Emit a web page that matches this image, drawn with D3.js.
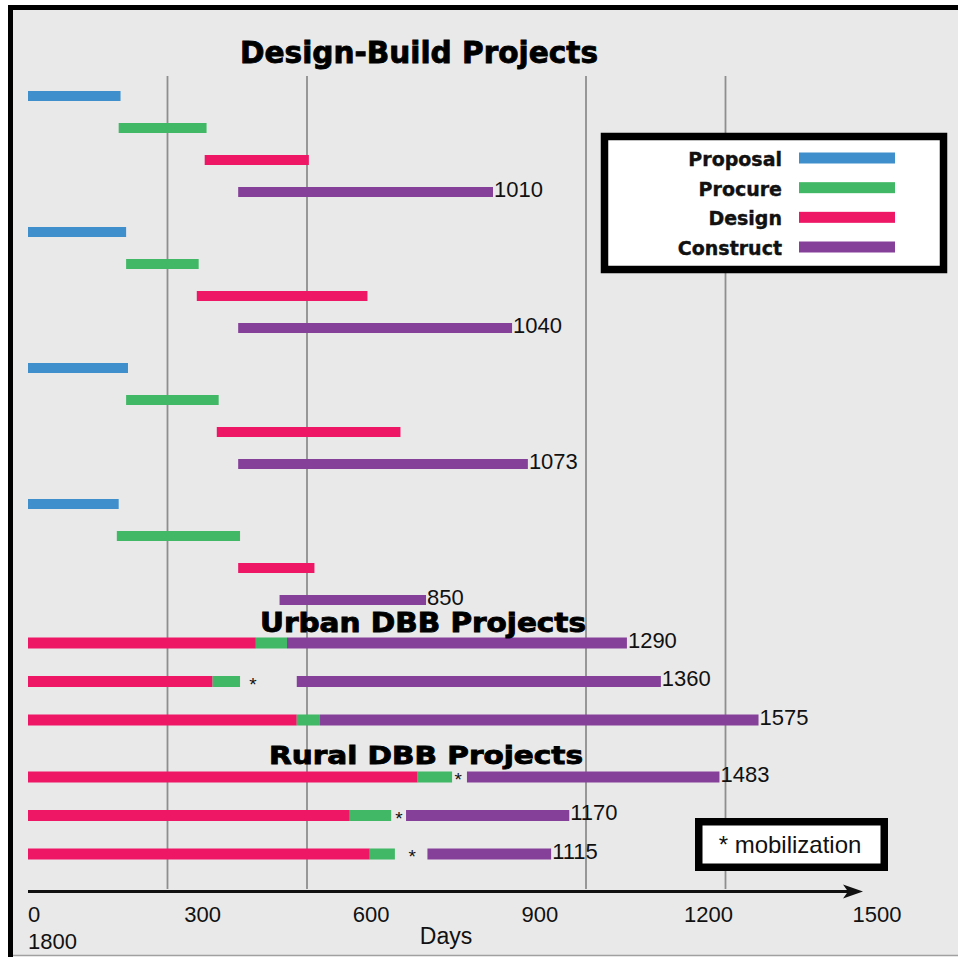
<!DOCTYPE html>
<html>
<head>
<meta charset="utf-8">
<script src="https://cdn.jsdelivr.net/npm/d3@7"></script>
<style>
  body { margin: 0; background: #fff; }
  svg { display: block; }
  text { font-family: "Liberation Sans", Arial, sans-serif; fill: #111; }
</style>
</head>
<body>
<div id="chart"></div>
<script>
var phases = ["Proposal", "Procure", "Design", "Construct"];
var phaseColors = ["#3f8fcd", "#41b865", "#ed1766", "#85419a"];

// design-build projects, [start, end] in days
var dbProposal  = [[0, 199], [0, 211], [0, 215], [0, 195]];
var dbProcure   = [[195, 384], [211, 367], [211, 410], [191, 456]];
var dbDesign    = [[380, 604], [363, 730], [406, 801], [452, 616]];
var dbConstruct = [[452, 1000], [452, 1041], [452, 1075], [541, 856]];
var dbTotals    = [1010, 1040, 1073, 850];

// urban design-bid-build projects
var urbanDesign       = [[0, 490], [0, 397], [0, 578]];
var urbanProcure      = [[490, 557], [397, 456], [578, 628]];
var urbanConstruct    = [[557, 1288], [578, 1361], [628, 1571]];
var urbanTotals       = [1290, 1360, 1575];
var urbanMobilization = [null, 484, null];

// rural design-bid-build projects
var ruralDesign       = [[0, 838], [0, 692], [0, 735]];
var ruralProcure      = [[838, 912], [692, 781], [735, 789]];
var ruralConstruct    = [[944, 1487], [813, 1164], [859, 1125]];
var ruralTotals       = [1483, 1170, 1115];
var ruralMobilization = [925, 798, 826];

var gridDays = [300, 600, 1200, 1500];
var tickLabels = [0, 300, 600, 900, 1200, 1500];
var wrappedTick = "1800";

var w = 958, h = 957;

var svg = d3.select("#chart").append("svg")
      .attr("width", w)
      .attr("height", h);

// frame
svg.append("rect")
  .attr("x", 8).attr("y", 5)
  .attr("width", w).attr("height", 951)
  .attr("fill", "#e9e9e9");
svg.append("line")
  .attr("x1", 8).attr("x2", w).attr("y1", 955.5).attr("y2", 955.5)
  .attr("stroke", "#a0a0a0").attr("stroke-width", 1.5);
svg.append("path")
  .attr("d", "M10.5,957V7.5H" + w)
  .attr("fill", "none").attr("stroke", "#000").attr("stroke-width", 5);

var x = d3.scaleLinear().domain([0, 1800]).range([28, 865]);
var fill = d3.scaleOrdinal().domain(phases).range(phaseColors);

// gridlines
svg.append("g")
  .selectAll("line")
  .data(gridDays)
  .enter().append("line")
  .attr("x1", (d) => x(d)).attr("x2", (d) => x(d))
  .attr("y1", 76).attr("y2", 889)
  .attr("stroke", "#8e8e8e")
  .attr("stroke-width", 1.8);

// row positions
var dbGroupY = d3.scalePoint().domain(d3.range(dbTotals.length)).range([96, 504]);
var dbPhaseY = d3.scalePoint().domain(phases).range([0, 96]);
var urbanY = d3.scalePoint().domain(d3.range(urbanTotals.length)).range([643, 720]);
var ruralY = d3.scalePoint().domain(d3.range(ruralTotals.length)).range([777, 854]);

var barH = 10, dbbBarH = 11;

var dbRows = [];
[dbProposal, dbProcure, dbDesign, dbConstruct].forEach((arr, i) => {
  arr.forEach((d, p) => {
    dbRows.push({phase: phases[i], start: d[0], end: d[1], y: dbGroupY(p) + dbPhaseY(phases[i])});
  });
});

var dbbRows = [];
function addDbb(design, procure, construct, yScale) {
  design.forEach((d, p) => {
    dbbRows.push({phase: "Design", start: d[0], end: d[1], y: yScale(p)});
    dbbRows.push({phase: "Procure", start: procure[p][0], end: procure[p][1], y: yScale(p)});
    dbbRows.push({phase: "Construct", start: construct[p][0], end: construct[p][1], y: yScale(p)});
  });
}
addDbb(urbanDesign, urbanProcure, urbanConstruct, urbanY);
addDbb(ruralDesign, ruralProcure, ruralConstruct, ruralY);

svg.append("g")
  .selectAll("rect")
  .data(dbRows)
  .enter().append("rect")
  .attr("x", (d) => x(d.start))
  .attr("width", (d) => x(d.end) - x(d.start))
  .attr("y", (d) => d.y - barH / 2)
  .attr("height", barH)
  .attr("fill", (d) => fill(d.phase));

svg.append("g")
  .selectAll("rect")
  .data(dbbRows)
  .enter().append("rect")
  .attr("x", (d) => x(d.start))
  .attr("width", (d) => x(d.end) - x(d.start))
  .attr("y", (d) => d.y - dbbBarH / 2)
  .attr("height", dbbBarH)
  .attr("fill", (d) => fill(d.phase));

// totals
var totals = [];
dbTotals.forEach((t, p) => totals.push({t: t, end: dbConstruct[p][1], y: dbGroupY(p) + dbPhaseY("Construct")}));
urbanTotals.forEach((t, p) => totals.push({t: t, end: urbanConstruct[p][1], y: urbanY(p)}));
ruralTotals.forEach((t, p) => totals.push({t: t, end: ruralConstruct[p][1], y: ruralY(p)}));

svg.append("g")
  .selectAll("text")
  .data(totals)
  .enter().append("text")
  .attr("x", (d) => x(d.end) + 1)
  .attr("y", (d) => d.y)
  .attr("dy", "0.22em")
  .style("font-size", "22px")
  .text((d) => d.t);

// mobilization marks
var mobs = [];
urbanMobilization.forEach((m, p) => { if (m != null) mobs.push({day: m, y: urbanY(p)}); });
ruralMobilization.forEach((m, p) => { if (m != null) mobs.push({day: m, y: ruralY(p)}); });

svg.append("g")
  .selectAll("text")
  .data(mobs)
  .enter().append("text")
  .attr("x", (d) => x(d.day))
  .attr("y", (d) => d.y)
  .attr("dy", "0.48em")
  .attr("text-anchor", "middle")
  .style("font-size", "19px")
  .text("*");

// section titles
var titles = [
  {text: "Design-Build Projects", cx: 419, y: 63, size: 31, len: 358},
  {text: "Urban DBB Projects", cx: 423, y: 631.5, size: 26, len: 326},
  {text: "Rural DBB Projects", cx: 426, y: 764, size: 25, len: 314}
];
svg.append("g")
  .selectAll("text")
  .data(titles)
  .enter().append("text")
  .attr("x", (d) => d.cx - d.len / 2)
  .attr("y", (d) => d.y)
  .attr("textLength", (d) => d.len)
  .attr("lengthAdjust", "spacingAndGlyphs")
  .style("font-family", "'Liberation Sans Narrow', 'Arial Narrow', 'DejaVu Sans Condensed', 'Liberation Sans', sans-serif")
  .style("font-weight", "bold")
  .style("font-size", (d) => d.size + "px")
  .style("fill", "#000")
  .style("stroke", "#000")
  .style("stroke-width", 0.8)
  .text((d) => d.text);

// legend
var legendY = d3.scalePoint().domain(phases).range([158, 247]);
var legend = svg.append("g");
legend.append("rect")
  .attr("x", 604.5).attr("y", 136.5)
  .attr("width", 339).attr("height", 133)
  .attr("fill", "#fff")
  .attr("stroke", "#000")
  .attr("stroke-width", 7.5);
legend.selectAll("rect.key")
  .data(phases)
  .enter().append("rect")
  .attr("class", "key")
  .attr("x", 799).attr("width", 96)
  .attr("y", (d) => legendY(d) - 5.5)
  .attr("height", 11)
  .attr("fill", (d) => fill(d));
legend.selectAll("text")
  .data(phases)
  .enter().append("text")
  .attr("x", 782)
  .attr("y", (d) => legendY(d) + 8)
  .attr("text-anchor", "end")
  .style("font-family", "'DejaVu Sans', sans-serif")
  .style("font-weight", "bold")
  .style("font-size", "19px")
  .style("stroke", "#111")
  .style("stroke-width", 0.4)
  .text((d) => d);

// mobilization note
svg.append("rect")
  .attr("x", 698.75).attr("y", 821.75)
  .attr("width", 185.5).attr("height", 45.5)
  .attr("fill", "#fff")
  .attr("stroke", "#000")
  .attr("stroke-width", 7.5);
svg.append("text")
  .attr("x", 790).attr("y", 853)
  .attr("text-anchor", "middle")
  .style("font-size", "24px")
  .text("* mobilization");

// axis with arrow
var axisY = 891.5;
var tip = x(1800) - 2;
svg.append("line")
  .attr("x1", x(0)).attr("x2", tip - 12)
  .attr("y1", axisY).attr("y2", axisY)
  .attr("stroke", "#111").attr("stroke-width", 3);
svg.append("path")
  .attr("d", "M" + tip + "," + axisY + "L" + (tip - 20) + "," + (axisY - 7) +
             "L" + (tip - 15) + "," + axisY + "L" + (tip - 20) + "," + (axisY + 7) + "Z")
  .attr("fill", "#111");

var labelX = d3.scaleLinear().domain([0, 1500]).range([34, 877]);
svg.append("g")
  .selectAll("text")
  .data(tickLabels)
  .enter().append("text")
  .attr("x", (d) => labelX(d))
  .attr("y", 922)
  .attr("text-anchor", "middle")
  .style("font-size", "22px")
  .text((d) => d);
svg.append("text")
  .attr("x", 28).attr("y", 949)
  .style("font-size", "22px")
  .text(wrappedTick);
svg.append("text")
  .attr("x", 446).attr("y", 944)
  .attr("text-anchor", "middle")
  .style("font-size", "23px")
  .text("Days");
</script>
</body>
</html>
